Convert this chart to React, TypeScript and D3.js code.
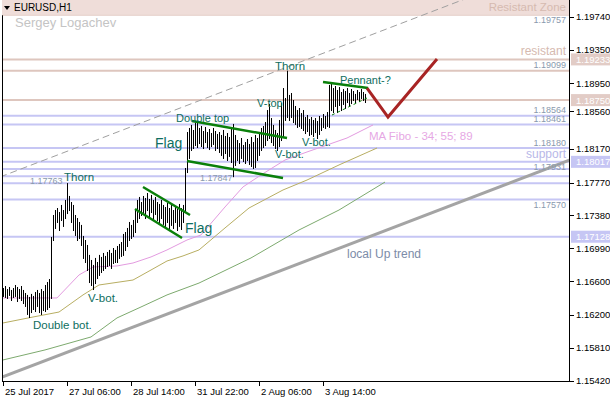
import React from "react";
import * as d3 from "d3";

// ---------- DATA ----------
const highs = [
  1.16519, 1.16543, 1.16507, 1.16531, 1.16496, 1.16519, 1.16555, 1.16531, 1.16507, 1.16543,
  1.16496, 1.1646, 1.16437, 1.16413, 1.16449, 1.16425, 1.16472, 1.16496, 1.1646, 1.16507,
  1.16484, 1.16555, 1.1659, 1.16626, 1.17125, 1.17386, 1.17445, 1.17469, 1.17421, 1.17505,
  1.17445, 1.17564, 1.17765, 1.17612, 1.1754, 1.17505, 1.17386, 1.1735, 1.17303, 1.17268,
  1.17137, 1.17089, 1.1703, 1.16912, 1.16852, 1.16793, 1.16876, 1.16828, 1.16912, 1.16888,
  1.16935, 1.169, 1.16947, 1.16971, 1.16935, 1.16994, 1.16971, 1.17018, 1.17042, 1.17065,
  1.17161, 1.17184, 1.17232, 1.17303, 1.17268, 1.17327, 1.17445, 1.17564, 1.176, 1.1754,
  1.17612, 1.17588, 1.17647, 1.17576, 1.17624, 1.17564, 1.176, 1.1754, 1.17517, 1.17564,
  1.17505, 1.17481, 1.17528, 1.17469, 1.17505, 1.17445, 1.17493, 1.17457, 1.17517, 1.17469,
  1.17505, 1.17944, 1.18371, 1.18419, 1.18455, 1.18395, 1.18478, 1.18502, 1.18419, 1.18443,
  1.18383, 1.18431, 1.18371, 1.18407, 1.18359, 1.18419, 1.18383, 1.18348, 1.18371, 1.18336,
  1.18395, 1.18324, 1.18359, 1.18312, 1.18419, 1.18467, 1.18336, 1.18276, 1.1824, 1.183,
  1.18217, 1.18252, 1.18288, 1.18229, 1.18312, 1.18252, 1.18336, 1.183, 1.18371, 1.18419,
  1.18443, 1.1849, 1.18632, 1.18704, 1.18537, 1.18455, 1.18395, 1.18359, 1.18514, 1.18715,
  1.18893, 1.18775, 1.19099, 1.18811, 1.18834, 1.18751, 1.1868, 1.18632, 1.18656, 1.18596,
  1.18632, 1.18549, 1.18573, 1.18525, 1.18549, 1.18514, 1.18537, 1.18502, 1.18561, 1.18537,
  1.18585, 1.18561, 1.18608, 1.18929, 1.18952, 1.18893, 1.18917, 1.1887, 1.18905, 1.18846,
  1.18881, 1.18858, 1.18893, 1.18834, 1.18881, 1.18858, 1.18823, 1.1887, 1.18846, 1.18881,
  1.18846, 1.18823,
];
const lows = [
  1.16425, 1.16413, 1.16401, 1.16437, 1.16377, 1.16413, 1.16425, 1.16365, 1.16401, 1.16377,
  1.16341, 1.16306, 1.16211, 1.16175, 1.16234, 1.1627, 1.16246, 1.16306, 1.16234, 1.16211,
  1.16258, 1.16246, 1.1627, 1.16294, 1.16401, 1.17089, 1.17232, 1.17303, 1.17208, 1.17327,
  1.17256, 1.1735, 1.17409, 1.17445, 1.17303, 1.17208, 1.17149, 1.17089, 1.17113, 1.1703,
  1.16876, 1.16828, 1.16733, 1.1659, 1.16555, 1.16507, 1.16578, 1.16638, 1.16674, 1.16709,
  1.16733, 1.16757, 1.16781, 1.16793, 1.16757, 1.16816, 1.16828, 1.16828, 1.16876, 1.169,
  1.16912, 1.16971, 1.17018, 1.17089, 1.17113, 1.17137, 1.17184, 1.17303, 1.1735, 1.17386,
  1.17421, 1.1735, 1.17445, 1.17374, 1.17421, 1.17327, 1.17398, 1.17327, 1.17303, 1.1735,
  1.1728, 1.17256, 1.17303, 1.17232, 1.17268, 1.17232, 1.17303, 1.17208, 1.17256, 1.1722,
  1.17303, 1.17421, 1.17896, 1.18063, 1.18158, 1.18181, 1.18217, 1.18193, 1.1824, 1.18205,
  1.18181, 1.18252, 1.18193, 1.18169, 1.18205, 1.18229, 1.18158, 1.18181, 1.18134, 1.18099,
  1.18063, 1.18122, 1.18039, 1.18087, 1.18015, 1.17847, 1.1798, 1.18039, 1.18003, 1.18063,
  1.18027, 1.18003, 1.18039, 1.17992, 1.17968, 1.17944, 1.17956, 1.18039, 1.18099, 1.18158,
  1.18193, 1.18217, 1.18276, 1.183, 1.18252, 1.18217, 1.18181, 1.18158, 1.18205, 1.18276,
  1.18312, 1.18514, 1.18549, 1.18514, 1.18549, 1.1849, 1.18467, 1.18431, 1.18443, 1.18419,
  1.18395, 1.18359, 1.18383, 1.18336, 1.18348, 1.18324, 1.18371, 1.183, 1.18348, 1.18395,
  1.18431, 1.18419, 1.18443, 1.18431, 1.18632, 1.18608, 1.1868, 1.18608, 1.18692, 1.18632,
  1.18704, 1.18656, 1.18727, 1.1868, 1.18715, 1.18751, 1.18727, 1.18763, 1.18739, 1.18775,
  1.18751, 1.18727,
];

// Moving averages (bar index, price)
const ma34Idx = [0, 27, 38, 45, 57, 65, 74, 82, 92, 99, 111, 120, 129, 141, 152, 172, 185];
const ma34Val = [1.16401, 1.16401, 1.16674, 1.16769, 1.16781, 1.16816, 1.16888, 1.16971, 1.17089, 1.17149, 1.17481, 1.17719, 1.17861, 1.18039, 1.18134, 1.183, 1.18455];
const ma55Idx = [0, 15, 28, 40, 48, 65, 74, 82, 90, 98, 111, 123, 140, 152, 168, 187];
const ma55Val = [1.16104, 1.16175, 1.16234, 1.16437, 1.16555, 1.16614, 1.16733, 1.1684, 1.169, 1.16971, 1.17232, 1.17469, 1.17683, 1.17801, 1.1798, 1.18181];
const ma89Idx = [0, 21, 44, 57, 69, 82, 98, 124, 148, 168, 191];
const ma89Val = [1.15665, 1.15784, 1.15938, 1.16164, 1.16294, 1.16437, 1.16578, 1.16876, 1.17208, 1.17445, 1.17777];

// Horizontal levels
const blueLevels = [1.18564, 1.18461, 1.1818, 1.18017, 1.17931, 1.17847, 1.17763, 1.1757, 1.17128];
const pinkLevels = [1.19233, 1.19099, 1.1875];
const zoneTop = 1.19757;

// Price axis ticks
const priceTicks = [1.1974, 1.1935, 1.1895, 1.1856, 1.1817, 1.1777, 1.1738, 1.1699, 1.166, 1.162, 1.1581, 1.1542];
const timeTickIdx = [0, 32, 64, 96, 128, 160];
const timeTickLabels = ["25 Jul 2017", "27 Jul 06:00", "28 Jul 14:00", "31 Jul 22:00", "2 Aug 06:00", "3 Aug 14:00"];

// Drawn objects [idx1, price1, idx2, price2]
const trendSolid = [-1.5, 1.15451, 283.5, 1.18039];
const trendDashed = [-1.5, 1.17837, 283.5, 1.20428];
const greenLines = [
  [70, 1.17718, 93.5, 1.17386],
  [66, 1.17457, 89.5, 1.17113],
  [94.5, 1.18502, 142, 1.183],
  [92, 1.18027, 140, 1.17825],
  [160, 1.18965, 182.5, 1.18893],
];
const pennantLow = [164.5, 1.18573, 182, 1.18775];
const forecastIdx = [182, 192.5, 217];
const forecastVal = [1.18893, 1.18549, 1.19238];

export default function App() {
  const W = 610, H = 400;
  const plotL = 2, plotR = 570, plotT = 0, plotB = 382;
  const x = d3.scaleLinear().domain([0, 100]).range([3, 203]);
  const y = d3.scaleLinear().domain([1.1542, 1.1974]).range([380.6, 16.7]);

  const ma = (idx: number[], val: number[]) =>
    d3.line<number>().x((d, i) => x(idx[i])).y((d) => y(d))(val) || "";

  const annot = "#0E6E60";
  const lvlText = "#8A9AAE";
  const font = "'Liberation Sans', Arial, sans-serif";

  const lbl = (txt: string, xx: number, yy: number, opts: any = {}) => (
    <text x={xx} y={yy} fontFamily={font} fontSize={opts.size || 11} fill={opts.fill || annot} textAnchor={opts.anchor || "start"}>{txt}</text>
  );

  // axis label for 1.18560 sits a little higher in the original terminal
  const tickLabelShift = (p: number) => (Math.abs(p - 1.1856) < 1e-6 ? -5 : 0);

  return (
    <svg width={W} height={H} style={{ position: "absolute", left: 0, top: 0, background: "#fff" }}>
      <defs>
        <clipPath id="plot"><rect x={plotL} y={plotT} width={plotR - plotL} height={plotB - plotT} /></clipPath>
      </defs>
      <rect x={0} y={0} width={W} height={H} fill="#fff" />
      <g clipPath="url(#plot)">
        <rect x={0} y={0} width={plotR} height={y(zoneTop)} fill="#EFDDD9" />
        {pinkLevels.map((p, i) => (
          <line key={"pl" + i} x1={plotL} x2={plotR} y1={y(p)} y2={y(p)} stroke="#DEC6BE" strokeWidth={2} />
        ))}
        <line x1={plotL} x2={plotR} y1={y(zoneTop)} y2={y(zoneTop)} stroke="#E6CFC9" strokeWidth={1} />
        {blueLevels.map((p, i) => (
          <line key={"bl" + i} x1={plotL} x2={plotR} y1={y(p)} y2={y(p)} stroke="#C6C6F4" strokeWidth={2} />
        ))}
        <path d={ma(ma89Idx, ma89Val)} fill="none" stroke="#7DAA6E" strokeWidth={1} />
        <path d={ma(ma55Idx, ma55Val)} fill="none" stroke="#B8AE62" strokeWidth={1} />
        <path d={ma(ma34Idx, ma34Val)} fill="none" stroke="#E39BE0" strokeWidth={1} />
        <line x1={x(trendDashed[0])} y1={y(trendDashed[1])} x2={x(trendDashed[2])} y2={y(trendDashed[3])} stroke="#A0A0A0" strokeWidth={1} strokeDasharray="7,4" />
        <line x1={x(trendSolid[0])} y1={y(trendSolid[1])} x2={x(trendSolid[2])} y2={y(trendSolid[3])} stroke="#A4A4A4" strokeWidth={3} />
        {highs.map((h, i) => (
          <line key={"b" + i} x1={Math.round(x(i)) + 0.5} x2={Math.round(x(i)) + 0.5} y1={y(h)} y2={y(lows[i]) + 1} stroke="#000" strokeWidth={1} />
        ))}
        {greenLines.map((g, i) => (
          <line key={"g" + i} x1={x(g[0])} y1={y(g[1])} x2={x(g[2])} y2={y(g[3])} stroke="#0A800A" strokeWidth={2.5} />
        ))}
        <line x1={x(pennantLow[0])} y1={y(pennantLow[1])} x2={x(pennantLow[2])} y2={y(pennantLow[3])} stroke="#0A800A" strokeWidth={1} strokeDasharray="3,3" />
        <path d={ma(forecastIdx, forecastVal)} fill="none" stroke="#A82424" strokeWidth={3} />
      </g>

      {/* header */}
      <path d="M4,6 L10,6 L7,10 Z" fill="#000" />
      {lbl("EURUSD,H1", 14, 11, { fill: "#000", size: 10 })}
      {lbl("Sergey Logachev", 15, 27, { fill: "#C4C4C4", size: 13 })}

      {/* level labels */}
      {lbl("Resistant Zone", 566, 11, { fill: "#D6BAB0", size: 11.5, anchor: "end" })}
      {lbl("1.19757", 566, 23, { fill: lvlText, size: 9, anchor: "end" })}
      {lbl("resistant", 566, 55, { fill: "#D6BAB0", size: 12, anchor: "end" })}
      {lbl("1.19099", 566, 68, { fill: lvlText, size: 9, anchor: "end" })}
      {lbl("1.18564", 566, 113, { fill: lvlText, size: 9, anchor: "end" })}
      {lbl("1.18461", 566, 122, { fill: lvlText, size: 9, anchor: "end" })}
      {lbl("1.18180", 566, 146, { fill: lvlText, size: 9, anchor: "end" })}
      {lbl("support", 566, 158, { fill: "#B8B8E8", size: 12, anchor: "end" })}
      {lbl("1.17931", 566, 170, { fill: lvlText, size: 9, anchor: "end" })}
      {lbl("1.17570", 566, 208, { fill: lvlText, size: 9, anchor: "end" })}
      {lbl("1.17763", 30, 184, { fill: lvlText, size: 9 })}
      {lbl("1.17847", 200, 181, { fill: lvlText, size: 9 })}

      {/* annotations */}
      {lbl("Thorn", 64, 181, { size: 11.5 })}
      {lbl("Double bot.", 33, 329, { size: 11.5 })}
      {lbl("V-bot.", 88, 302, { size: 11.5 })}
      {lbl("Flag", 155, 148, { size: 14 })}
      {lbl("Flag", 185, 233, { size: 14 })}
      {lbl("Double top", 176, 122, { size: 11 })}
      {lbl("V-top", 257, 107, { size: 11 })}
      {lbl("V-bot.", 275, 158, { size: 11 })}
      {lbl("V-bot.", 302, 146, { size: 11 })}
      {lbl("Thorn", 275, 70, { size: 11.5 })}
      {lbl("Pennant-?", 340, 84, { size: 11 })}
      {lbl("MA Fibo - 34; 55; 89", 369, 140, { fill: "#E6A8E4", size: 11.5 })}
      {lbl("local Up trend", 347, 258, { fill: "#7C8CA8", size: 12 })}

      {/* frame */}
      <line x1={plotL + 0.5} x2={plotL + 0.5} y1={y(zoneTop)} y2={plotB} stroke="#000" />
      <line x1={plotR - 0.5} x2={plotR - 0.5} y1={0} y2={plotB} stroke="#000" />
      <line x1={plotL} x2={plotR} y1={plotB - 0.5} y2={plotB - 0.5} stroke="#000" />

      {/* highlighted level prices on the price axis */}
      {[...pinkLevels.filter((p) => p !== 1.19099), ...blueLevels.filter((p) => p === 1.18017 || p === 1.17128)].map((p, i) => (
        <g key={"hl" + i}>
          <rect x={plotR + 1} y={y(p) - 6} width={W - plotR - 1} height={12} fill={p > 1.186 ? "#E2CCC6" : "#C6C6F4"} />
          <text x={plotR + 6} y={y(p) + 3.5} fontFamily={font} fontSize={9.5} fill="#fff">{p.toFixed(5)}</text>
        </g>
      ))}

      {/* price axis */}
      {priceTicks.map((p, i) => (
        <g key={"pt" + i}>
          <line x1={plotR} x2={plotR + 4} y1={Math.round(y(p) + tickLabelShift(p)) + 0.5} y2={Math.round(y(p) + tickLabelShift(p)) + 0.5} stroke="#000" />
          <text x={plotR + 6} y={y(p) + tickLabelShift(p) + 3.5} fontFamily={font} fontSize={9.5} fill="#000">{p.toFixed(5)}</text>
        </g>
      ))}

      {/* time axis */}
      {timeTickIdx.map((t, i) => (
        <g key={"tt" + i}>
          <line x1={Math.round(x(t)) + 0.5} x2={Math.round(x(t)) + 0.5} y1={plotB} y2={plotB + 4} stroke="#000" />
          <text x={x(t) + 2} y={395} fontFamily={font} fontSize={9.5} fill="#000">{timeTickLabels[i]}</text>
        </g>
      ))}
    </svg>
  );
}
